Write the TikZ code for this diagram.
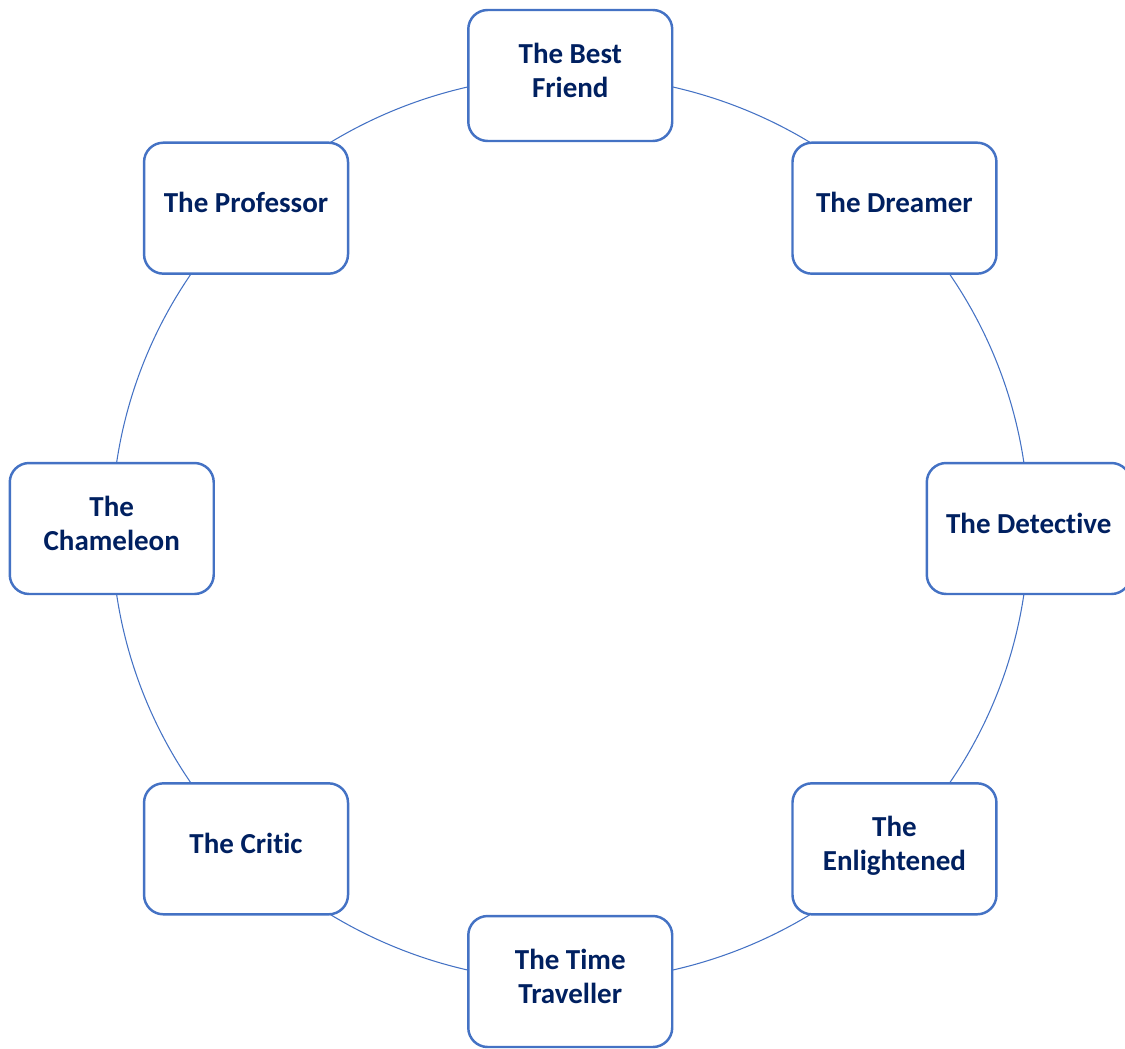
\documentclass[tikz,border=0pt]{standalone}
\usepackage{fontspec}
\setmainfont{Carlito}[Ligatures=NoCommon]
\usetikzlibrary{backgrounds}
\definecolor{ringBlue}{HTML}{4472C4}
\definecolor{textNavy}{HTML}{002060}
\tikzset{roleBox/.style={
    draw=ringBlue,
    line width=1.4pt,
    fill=white,
    rounded corners=11pt,
    minimum width=4.08cm,
    minimum height=2.62cm,
    align=center,
    text depth=6.3pt,
    text=textNavy,
    font=\fontsize{16.5}{19.3}\selectfont\bfseries},
  ringLine/.style={
    draw=ringBlue,
    line width=0.6pt}
}

\begin{document}
\begin{tikzpicture}[x=0.02cm,y=-0.02cm]
      \useasboundingbox (0,0) rectangle (1125,1048);

      % the eight boxes round the ring
      \node[roleBox] (best) at (570.25,75.5) {The Best\\Friend};
      \node[roleBox] (dreamer) at (894.46,208.18) {The Dreamer};
      \node[roleBox] (detective) at (1028.75,528.5) {The Detective};
      \node[roleBox] (enlightened) at (894.46,848.82) {The\\Enlightened};
      \node[roleBox] (traveller) at (570.25,981.5) {The Time\\Traveller};
      \node[roleBox] (critic) at (246.04,848.82) {The Critic};
      \node[roleBox] (chameleon) at (111.75,528.5) {The\\Chameleon};
      \node[roleBox] (professor) at (246.04,208.18) {The Professor};

      % ring, one arc from each box to the next
      \begin{scope}[on background layer]
      \foreach \from/\s in {best/-90,dreamer/-45,detective/0,enlightened/45,
                            traveller/90,critic/135,chameleon/180,professor/225}
      {
        \draw[ringLine] (\from.center)
        arc[start angle=\s,delta angle=45,x radius=458.5,y radius=453];
      }
      \end{scope}
    \end{tikzpicture}
\end{document}
